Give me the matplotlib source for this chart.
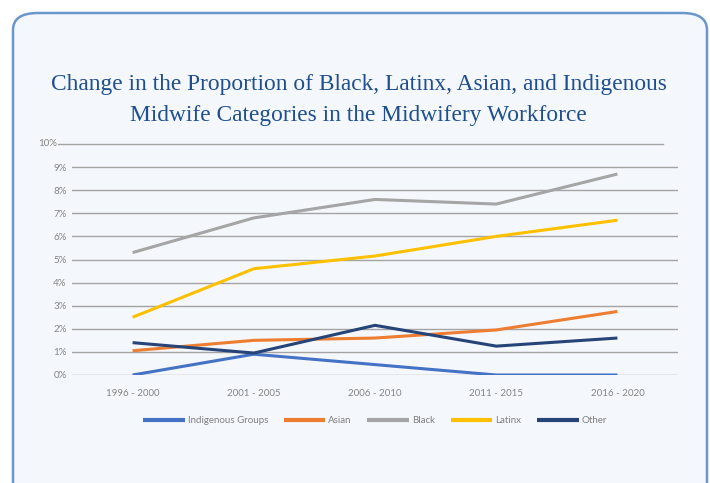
import matplotlib.pyplot as plt
from matplotlib.patches import FancyBboxPatch

periods = ['1996 - 2000', '2001 - 2005', '2006 - 2010', '2011 - 2015', '2016 - 2020']
indigenous = [0.0, 0.9, 0.45, 0.0, 0.0]
asian = [1.05, 1.5, 1.6, 1.95, 2.75]
black = [5.3, 6.8, 7.6, 7.4, 8.7]
latinx = [2.5, 4.6, 5.15, 6.0, 6.7]
other = [1.4, 0.95, 2.15, 1.25, 1.6]

series = [('Indigenous Groups', indigenous, '#4472C4'),
          ('Asian', asian, '#ED7D31'),
          ('Black', black, '#A5A5A5'),
          ('Latinx', latinx, '#FFC000'),
          ('Other', other, '#264478')]

W, H = 710, 483
fig = plt.figure(figsize=(W / 100, H / 100), dpi=100)
fig.patch.set_facecolor('white')

# rounded card behind everything
card = FancyBboxPatch((13 / W, -20 / H), 694 / W, (H - 13 + 20) / H,
                      boxstyle='round,pad=0,rounding_size=0.035',
                      transform=fig.transFigure, facecolor='#f4f7fc',
                      edgecolor='#6b96cb', linewidth=1.8, zorder=-5)
fig.patches.append(card)

fig.text(0.505, 1 - 74 / H,
         'Change in the Proportion of Black, Latinx, Asian, and Indigenous\n'
         'Midwife Categories in the Midwifery Workforce',
         ha='center', va='top', fontsize=16.8, color='#1f4f8f',
         family='Liberation Serif', linespacing=1.6)

ax = fig.add_axes([72 / W, 108 / H, 606 / W, 231 / H])
ax.set_facecolor('none')
x = range(len(periods))
for name, vals, col in series:
    ax.plot(x, vals, color=col, lw=2.2, label=name, solid_capstyle='butt', zorder=3)

ax.set_xlim(-0.5, len(periods) - 0.5)
ax.set_ylim(0, 10)
ax.set_yticks(range(0, 10))
ax.set_yticklabels([f'{i}%' for i in range(0, 10)])
ax.set_xticks(list(x))
ax.set_xticklabels(periods)
for i in range(0, 10):
    ax.axhline(i, color='#a3a3a3', lw=1.0, zorder=1)
# top gridline (and its label) sits a little to the left in the original
ax.plot([-14 / 606, 591 / 606], [1, 1], transform=ax.transAxes,
        color='#a3a3a3', lw=1.0, clip_on=False, zorder=1)
ax.text(-15 / 606, 1, '10%', transform=ax.transAxes, ha='right', va='center',
        fontsize=7, color='#858585', family='Lato')
for s in ax.spines.values():
    s.set_visible(False)
ax.tick_params(length=0, labelsize=7, colors='#858585', pad=4)
ax.tick_params(axis='x', pad=10)
for t in ax.get_xticklabels() + ax.get_yticklabels():
    t.set_family('Lato')

leg = ax.legend(loc='upper center', bbox_to_anchor=(0.5, -0.14), ncol=5,
                frameon=False, handlelength=4.3, handletextpad=0.3,
                columnspacing=1.6, prop={'family': 'Lato', 'size': 7})
for t in leg.get_texts():
    t.set_color('#7f7f7f')
for l in leg.get_lines():
    l.set_linewidth(3)

fig.savefig('out.png', dpi=100, facecolor='white')
